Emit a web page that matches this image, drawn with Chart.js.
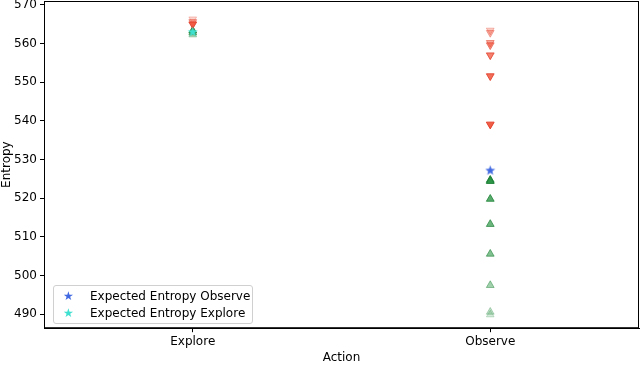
<!DOCTYPE html>
<html>
<head>
<meta charset="utf-8">
<script src="https://cdn.jsdelivr.net/npm/chart.js@4/dist/chart.umd.min.js"></script>
<style>
  body { margin: 0; background: #fff; }
  #wrap { position: relative; width: 640px; height: 365px; }
  #legend {
    position: absolute; left: 53px; top: 285px; width: 198px; height: 37px;
    border: 1px solid #d0d0d0; border-radius: 3px; background: rgba(255,255,255,0.8);
    font-family: "DejaVu Sans", sans-serif; font-size: 12px; color: #000;
  }
  .row { position: absolute; left: 0; height: 16px; line-height: 16px; white-space: nowrap; }
  .row span.mk { position: absolute; left: 9px; font-size: 12px; }
  .row span.tx { position: absolute; left: 36px; }
</style>
</head>
<body>
<div id="wrap">
  <canvas id="chart" width="640" height="365"></canvas>
  <div id="legend">
    <div class="row" style="top:2px"><span class="mk" style="color:#4169e1">★</span><span class="tx">Expected Entropy Observe</span></div>
    <div class="row" style="top:19px"><span class="mk" style="color:#40e0d0">★</span><span class="tx">Expected Entropy Explore</span></div>
  </div>
</div>
<script>
// categories and tick labels
const actions = ['Explore', 'Observe'];
const yTicks = [490, 500, 510, 520, 530, 540, 550, 560, 570];

// entropy after each step (down triangles = observe outcome, up = explore outcome)
const exploreDown = [566.3, 565.6, 565.0];
const exploreDownAlpha = [0.25, 0.5, 0.9];
const exploreUp = [563.3, 562.8, 562.3];
const exploreUpAlpha = [0.9, 0.6, 0.3];
const observeDown = [563.4, 562.8, 560.2, 559.6, 557.0, 551.6, 539.1];
const observeDownAlpha = [0.3, 0.4, 0.5, 0.6, 0.75, 0.85, 0.95];
const observeUp = [524.7, 524.4, 519.8, 513.3, 505.6, 497.5, 490.6, 489.9];
const observeUpAlpha = [0.95, 0.9, 0.8, 0.7, 0.6, 0.45, 0.3, 0.2];
const expectedObserve = 527.3;
const expectedExplore = 563.1;

const red = a => `rgba(240,85,60,${a})`;
const redEdge = a => `rgba(225,60,40,${a})`;
const green = a => `rgba(45,150,70,${a})`;
const greenEdge = a => `rgba(30,130,55,${a})`;

function pts(cat, vals) {
  return vals.map(v => ({ x: cat, y: v }));
}

// filled 5-point star like matplotlib's '*' marker
function starIcon(color) {
  const c = document.createElement('canvas');
  c.width = 11; c.height = 11;
  const g = c.getContext('2d');
  g.beginPath();
  for (let i = 0; i < 10; i++) {
    const r = i % 2 === 0 ? 5.2 : 2.2;
    const ang = -Math.PI / 2 + i * Math.PI / 5;
    g.lineTo(5.5 + r * Math.cos(ang), 6 + r * Math.sin(ang));
  }
  g.closePath();
  g.fillStyle = color;
  g.fill();
  return c;
}

const frame = {
  id: 'frame',
  afterDraw(chart) {
    const { ctx, chartArea: a } = chart;
    ctx.save();
    ctx.strokeStyle = '#000';
    ctx.lineWidth = 1;
    ctx.strokeRect(a.left + 0.5, a.top + 0.5, a.right - a.left - 1, a.bottom - a.top - 1);
    ctx.restore();
  }
};

new Chart(document.getElementById('chart'), {
  type: 'scatter',
  data: {
    labels: actions,
    datasets: [
      {
        data: pts('Explore', exploreDown).concat(pts('Observe', observeDown)),
        order: 2,
        pointStyle: 'triangle', rotation: 180, pointRadius: 4.5, borderWidth: 1,
        backgroundColor: exploreDownAlpha.concat(observeDownAlpha).map(red),
        borderColor: exploreDownAlpha.concat(observeDownAlpha).map(redEdge)
      },
      {
        data: pts('Explore', exploreUp).concat(pts('Observe', observeUp)),
        order: 2,
        pointStyle: 'triangle', pointRadius: 4.5, borderWidth: 1,
        backgroundColor: exploreUpAlpha.concat(observeUpAlpha).map(green),
        borderColor: exploreUpAlpha.concat(observeUpAlpha).map(greenEdge)
      },
      {
        label: 'Expected Entropy Observe',
        data: [{ x: 'Observe', y: expectedObserve }],
        order: 0,
        pointStyle: starIcon('#4169e1'), pointRadius: 5
      },
      {
        label: 'Expected Entropy Explore',
        data: [{ x: 'Explore', y: expectedExplore }],
        order: 0,
        pointStyle: starIcon('#40e0d0'), pointRadius: 5
      }
    ]
  },
  options: {
    responsive: false,
    animation: false,
    layout: { autoPadding: false, padding: { top: 1, right: 1, left: 0, bottom: 0 } },
    plugins: { legend: { display: false }, tooltip: { enabled: false } },
    scales: {
      x: {
        type: 'category',
        labels: actions,
        offset: true,
        afterFit: s => { s.paddingLeft = 0; s.paddingRight = 0; },
        grid: { drawOnChartArea: false, color: '#000', tickLength: 4 },
        border: { color: '#000' },
        ticks: { color: '#000', font: { family: 'DejaVu Sans', size: 12 }, padding: 2 },
        title: { display: true, text: 'Action', color: '#000', font: { family: 'DejaVu Sans', size: 12 }, padding: { top: 0, bottom: 0 } }
      },
      y: {
        min: 486.4,
        max: 571,
        afterBuildTicks: axis => { axis.ticks = yTicks.map(v => ({ value: v })); },
        afterFit: s => { s.paddingTop = 0; s.paddingBottom = 0; s.width = 44; },
        grid: { drawOnChartArea: false, color: '#000', tickLength: 4 },
        border: { color: '#000' },
        ticks: { color: '#000', font: { family: 'DejaVu Sans', size: 12 }, padding: 3 },
        title: { display: true, text: 'Entropy', color: '#000', font: { family: 'DejaVu Sans', size: 12 }, padding: { top: 0, bottom: 0 } }
      }
    }
  },
  plugins: [frame]
});
</script>
</body>
</html>
